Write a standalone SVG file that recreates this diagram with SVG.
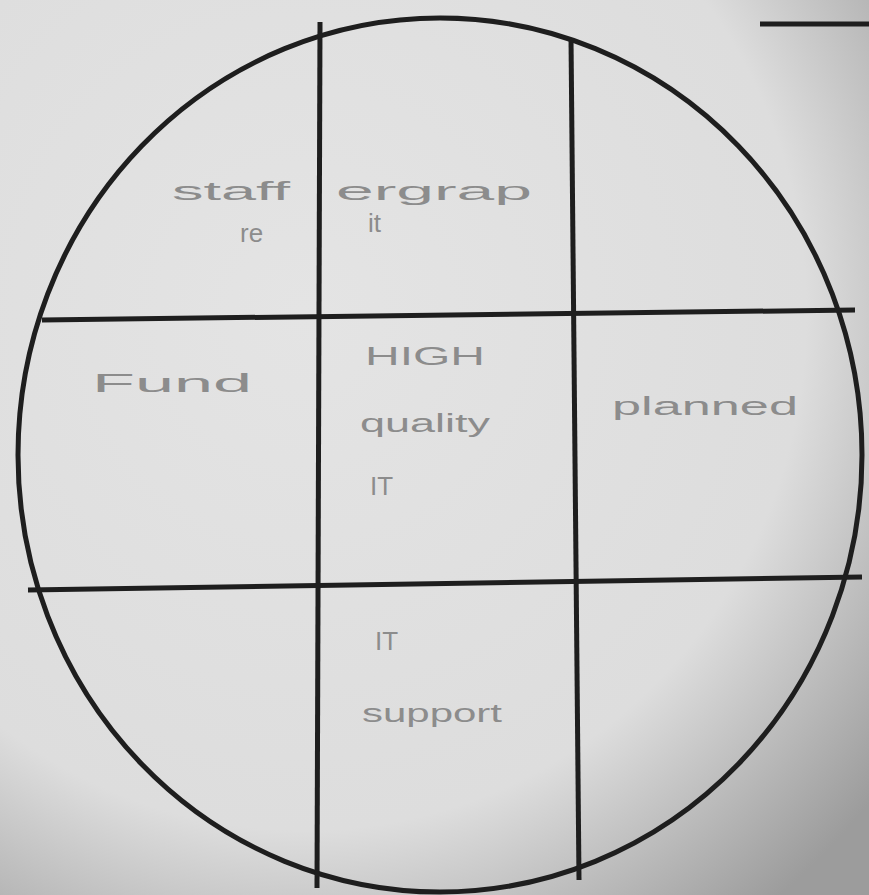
<svg xmlns="http://www.w3.org/2000/svg" width="869" height="895" viewBox="0 0 869 895">
<defs>
<radialGradient id="bg" cx="0.35" cy="0.35" r="0.85">
<stop offset="0" stop-color="#e4e4e4"/>
<stop offset="0.68" stop-color="#dddddd"/>
<stop offset="1" stop-color="#9c9c9c"/>
</radialGradient>
<style>
.ln{stroke:#1e1e1e;stroke-width:5;fill:none}
.t{font-family:"Liberation Sans",Arial,sans-serif;font-size:26px;fill:#8c8c8c}
</style>
</defs>
<rect width="869" height="895" fill="url(#bg)"/>
<g id="connectors">
<ellipse class="ln" cx="440" cy="455" rx="422" ry="437"/>
<line class="ln" x1="320" y1="22" x2="317" y2="888"/>
<line class="ln" x1="571" y1="38" x2="579" y2="880"/>
<line class="ln" x1="42" y1="320" x2="855" y2="310"/>
<line class="ln" x1="28" y1="590" x2="862" y2="577"/>
<line class="ln" x1="760" y1="24" x2="869" y2="24"/>
</g>
<g id="n-topleft"><text class="t" x="172" y="200" textLength="118" lengthAdjust="spacingAndGlyphs">staff</text><text class="t" x="240" y="242">re</text></g>
<g id="n-top"><text class="t" x="336" y="200" textLength="196" lengthAdjust="spacingAndGlyphs">ergrap</text><text class="t" x="368" y="232">it</text></g>
<g id="n-left"><text class="t" x="92" y="392" textLength="160" lengthAdjust="spacingAndGlyphs">Fund</text></g>
<g id="n-center"><text class="t" x="365" y="365" textLength="120" lengthAdjust="spacingAndGlyphs">HIGH</text><text class="t" x="360" y="432" textLength="130" lengthAdjust="spacingAndGlyphs">quality</text><text class="t" x="370" y="495">IT</text></g>
<g id="n-right"><text class="t" x="612" y="415" textLength="186" lengthAdjust="spacingAndGlyphs">planned</text></g>
<g id="n-bottom"><text class="t" x="375" y="650">IT</text><text class="t" x="362" y="722" textLength="140" lengthAdjust="spacingAndGlyphs">support</text></g>
</svg>
